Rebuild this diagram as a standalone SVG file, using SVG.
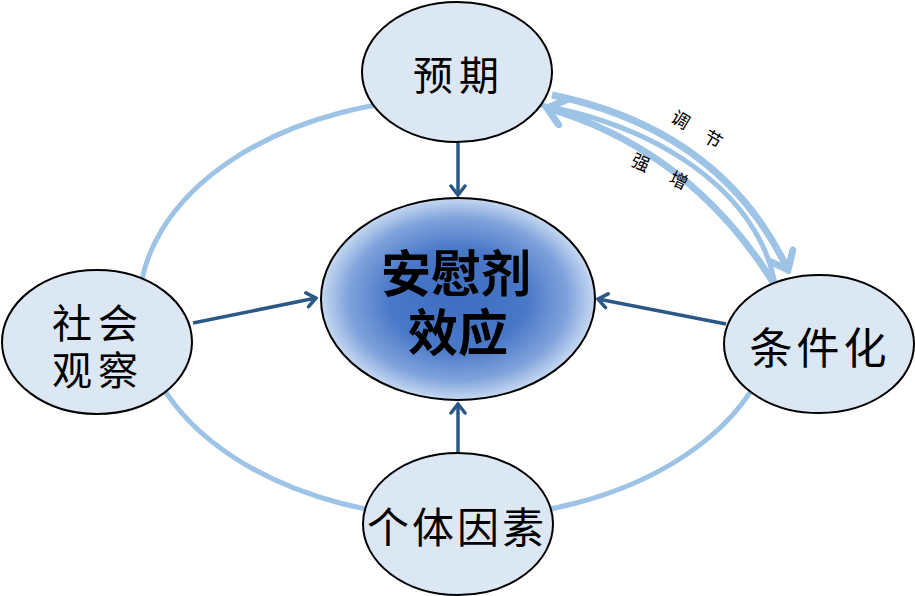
<svg xmlns="http://www.w3.org/2000/svg" width="915" height="596" viewBox="0 0 915 596">
<defs>
<style>
.node{fill:#dce7f4;stroke:#000;stroke-width:2}
.lbl{font-family:"Noto Sans CJK SC","Liberation Serif",serif;fill:#000;text-anchor:middle}
.small{font-family:"Noto Sans CJK SC","Liberation Serif",serif;fill:#000;font-size:18px;text-anchor:middle}
.ring{fill:none;stroke:#9dc3e6;stroke-width:5}
.cycle{fill:none;stroke:#9dc3e6;stroke-width:7}
.conn{fill:none;stroke:#2b5886;stroke-width:3.5}
</style>
<radialGradient id="cg" cx="50%" cy="50%" r="50%">
<stop offset="0%" stop-color="#3e6ec2"/>
<stop offset="50%" stop-color="#4a78c8"/>
<stop offset="80%" stop-color="#7fa2db"/>
<stop offset="100%" stop-color="#c7d9f2"/>
</radialGradient>
<marker id="dark" viewBox="-12 -9 14 18" markerWidth="14" markerHeight="18" refX="0" refY="0" orient="auto" markerUnits="userSpaceOnUse">
<path d="M-9,-7 L0,0 L-9,7" fill="none" stroke="#2b5886" stroke-width="3.5" stroke-linecap="round"/>
</marker>
<marker id="light" viewBox="-20 -16 24 32" markerWidth="24" markerHeight="32" refX="0" refY="0" orient="auto" markerUnits="userSpaceOnUse">
<path d="M-16,-13 L0,0 L-16,13" fill="none" stroke="#9dc3e6" stroke-width="7" stroke-linecap="round"/>
</marker>
</defs>
<rect width="915" height="596" fill="#fff"/>
<g id="connectors">
<ellipse class="ring" cx="458" cy="308" rx="319" ry="210"/>
<path class="cycle" d="M552,95 Q722,130 788,270" marker-end="url(#light)"/>
<path class="cycle" d="M773,282 Q690,150 547,108" marker-end="url(#light)"/>
<path class="conn" d="M458,143 L458,195" marker-end="url(#dark)"/>
<path class="conn" d="M193,323 L316,298" marker-end="url(#dark)"/>
<path class="conn" d="M726,324 L598,299" marker-end="url(#dark)"/>
<path class="conn" d="M458,453 L458,404" marker-end="url(#dark)"/>
<text class="small" x="700" y="138" transform="rotate(31 700 132)" letter-spacing="8" xml:space="preserve">调 节</text>
<text class="small" x="664" y="180" transform="rotate(25 664 174)" letter-spacing="10" xml:space="preserve">强 增</text>
</g>
<g id="node-yuqi">
<ellipse class="node" cx="457" cy="72" rx="95" ry="70"/>
<text class="lbl" x="459" y="90" font-size="40" letter-spacing="6">预期</text>
</g>
<g id="node-center">
<ellipse cx="458" cy="299" rx="137" ry="101" fill="url(#cg)" stroke="#000" stroke-width="2"/>
<text class="lbl" x="456" y="292" font-size="50" font-weight="bold">安慰剂</text>
<text class="lbl" x="458" y="351" font-size="50" font-weight="bold">效应</text>
</g>
<g id="node-shehui">
<ellipse class="node" cx="97" cy="342" rx="95" ry="72"/>
<text class="lbl" x="98" y="338" font-size="40" letter-spacing="6">社会</text>
<text class="lbl" x="98" y="385" font-size="40" letter-spacing="6">观察</text>
</g>
<g id="node-tiaojian">
<ellipse class="node" cx="819" cy="344" rx="95" ry="69"/>
<text class="lbl" x="820" y="364" font-size="43" letter-spacing="4">条件化</text>
</g>
<g id="node-geti">
<ellipse class="node" cx="458" cy="524" rx="95" ry="71"/>
<text class="lbl" x="457" y="543" font-size="42" letter-spacing="3">个体因素</text>
</g>
</svg>
